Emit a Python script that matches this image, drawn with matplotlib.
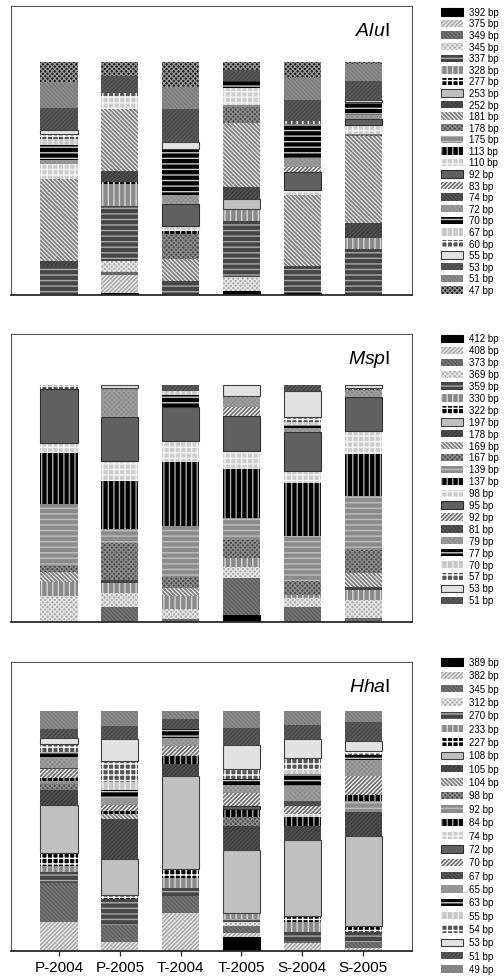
import matplotlib
matplotlib.use("Agg")
import matplotlib.pyplot as plt
from matplotlib.patches import Rectangle
import numpy as np

plt.rcParams['font.family'] = ['Liberation Sans', 'DejaVu Sans']
plt.rcParams['mathtext.fontset'] = 'custom'
plt.rcParams['mathtext.rm'] = 'Liberation Sans'
plt.rcParams['mathtext.it'] = 'Liberation Sans:italic'
plt.rcParams['hatch.linewidth'] = 1.0

samples = ["P-2004", "P-2005", "T-2004", "T-2005", "S-2004", "S-2005"]

# T-RFLP fragments (bp) and relative abundance (%), stacked bottom first
alu_bp = [392, 375, 349, 345, 337, 328, 277, 253, 252, 181, 178, 175, 113,
          110, 92, 83, 74, 72, 70, 67, 60, 55, 53, 51, 47]
alu_pct = [
    [0, 1.0, 0, 1.6, 0.7, 0],
    [0, 7.5, 0, 0, 0, 0],
    [0, 1.4, 0, 0, 0, 0],
    [0, 4.7, 0, 5.9, 0, 0],
    [12.5, 23.4, 4.3, 24.4, 10.6, 19.9],
    [0, 9.6, 0, 5.0, 0, 4.7],
    [0, 1.0, 0, 0, 0, 0],
    [0, 0, 0, 4.3, 0, 0],
    [2.2, 4.7, 1.7, 5.0, 1.1, 6.2],
    [35.2, 26.5, 9.3, 27.7, 30.4, 37.3],
    [0, 0, 10.8, 6.7, 0, 1.0],
    [0, 0, 0, 1.0, 0, 0],
    [0, 0, 1.4, 0, 0, 0],
    [6.5, 5.7, 2.2, 7.2, 2.3, 3.9],
    [0, 0, 9.5, 0, 7.5, 2.6],
    [0, 0, 0, 0, 2.2, 0],
    [0, 0, 0, 0, 0, 0],
    [1.4, 0, 3.9, 0, 3.9, 1.7],
    [6.5, 0, 19.7, 2.9, 14.8, 5.5],
    [2.4, 0, 0, 0, 0, 0],
    [2.2, 1.0, 0, 0, 1.0, 0],
    [1.9, 0, 2.9, 0, 0, 0.7],
    [9.5, 7.3, 14.1, 4.7, 9.0, 8.2],
    [11.2, 0, 9.3, 0, 9.6, 7.5],
    [8.3, 6.0, 10.8, 3.6, 6.9, 0.9],
]

msp_bp = [412, 408, 373, 369, 359, 330, 322, 197, 178, 169, 167, 139, 137,
          98, 95, 92, 81, 79, 77, 70, 57, 53, 51]
msp_pct = [
    [0, 0, 0, 2.8, 0, 0],
    [0, 0, 0, 0, 0, 0],
    [0, 6.2, 1.4, 15.7, 6.2, 1.7],
    [10.9, 6.2, 4.2, 4.6, 3.9, 7.4],
    [0, 0, 0, 0, 0, 0],
    [5.9, 4.1, 5.3, 3.8, 1.4, 4.6],
    [0, 0, 0, 0, 0, 0],
    [0, 0, 0, 0, 0, 0],
    [0, 1.1, 0, 0, 0, 1.0],
    [4.2, 0, 3.4, 0, 0, 6.0],
    [2.8, 15.7, 4.9, 7.9, 5.8, 9.8],
    [25.9, 5.8, 21.5, 9.0, 18.9, 22.7],
    [21.5, 20.6, 26.9, 20.8, 22.3, 17.8],
    [4.5, 8.4, 8.8, 7.6, 5.3, 9.5],
    [22.7, 18.2, 14.4, 14.6, 16.4, 14.4],
    [0, 0, 0, 3.8, 0, 0],
    [0, 0, 0, 0, 0, 0],
    [0, 12.6, 0, 4.6, 1.8, 2.8],
    [0, 0, 4.8, 0, 1.0, 0],
    [0, 0, 1.8, 0, 1.4, 0],
    [1.5, 0, 0, 0, 2.1, 1.0],
    [0, 1.1, 0, 4.9, 10.9, 1.1],
    [0, 0, 2.5, 0, 2.5, 0],
]

hha_bp = [389, 382, 345, 312, 270, 233, 227, 108, 105, 104, 98, 92, 84,
          74, 72, 70, 67, 65, 63, 55, 54, 53, 51, 49]
hha_pct = [
    [0, 0, 0, 5.8, 0, 0],
    [12.1, 3.9, 15.7, 1.5, 3.2, 1.4],
    [16.2, 6.8, 7.2, 3.1, 1.0, 2.4],
    [0, 0, 0, 1.7, 0, 0],
    [4.5, 10.9, 3.5, 1.4, 3.5, 3.9],
    [2.4, 0, 3.8, 2.2, 4.5, 0],
    [5.6, 1.8, 3.9, 0, 2.5, 2.5],
    [19.9, 14.9, 39.0, 26.5, 31.6, 37.5],
    [6.3, 16.5, 4.9, 9.7, 5.7, 10.4],
    [0, 2.1, 0, 0, 0, 0],
    [2.5, 0, 0, 3.8, 0, 0],
    [1.3, 0, 0, 0, 0, 4.3],
    [1.4, 1.4, 3.2, 3.5, 3.8, 2.6],
    [0, 0, 0, 0, 1.3, 0],
    [0, 0, 0, 1.4, 0, 0],
    [3.6, 2.4, 4.2, 5.3, 3.5, 7.7],
    [0.6, 0, 0, 0, 1.8, 0],
    [4.6, 3.2, 3.3, 3.1, 5.8, 6.7],
    [1.7, 3.2, 3.9, 2.8, 5.6, 2.1],
    [0, 3.1, 0, 0, 1.4, 0],
    [3.5, 9.1, 0, 3.9, 5.2, 1.7],
    [2.5, 9.1, 0, 10.0, 7.8, 4.2],
    [3.9, 5.2, 4.2, 7.4, 6.1, 8.1],
    [7.4, 6.4, 3.2, 7.0, 5.7, 4.6],
]

FW = "/" * 8
BK = "\\" * 8
XX = "x" * 7

# (face, hatch, line colour, hatch width) per stacking position;
# plain boxes get an outline instead
fills = [
    ("#000000", "", "#000000", 1.0),
    ("#a8a8a8", FW, "#e8e8e8", 1.0),
    ("#767676", BK, "#5e5e5e", 1.0),
    ("#acacac", XX, "#e6e6e6", 0.9),
    ("#464646", "---", "#a8a8a8", 1.0),
    ("#8a8a8a", "|||", "#d4d4d4", 1.0),
    ("#000000", "+++", "#ffffff", 1.0),
    ("#c0c0c0", "", "#404040", 1.0),
    ("#505050", FW, "#3c3c3c", 1.0),
    ("#eeeeee", BK, "#828282", 1.3),
    ("#4e4e4e", XX, "#8c8c8c", 0.9),
    ("#8c8c8c", "---", "#bcbcbc", 1.0),
    ("#000000", "|||", "#a8a8a8", 1.0),
    ("#cdcdcd", "+++", "#f4f4f4", 1.0),
    ("#606060", "", "#303030", 1.0),
    ("#f4f4f4", FW, "#6e6e6e", 1.2),
    ("#424242", BK, "#5a5a5a", 1.0),
    ("#8c8c8c", XX, "#9c9c9c", 0.9),
    ("#000000", "---", "#c8c8c8", 1.0),
    ("#c8c8c8", "|||", "#ececec", 1.0),
    ("#555555", "+++", "#ffffff", 1.0),
    ("#e2e2e2", "", "#404040", 1.0),
    ("#4a4a4a", FW, "#5c5c5c", 1.0),
    ("#7c7c7c", BK, "#8e8e8e", 1.0),
    ("#1c1c1c", XX, "#969696", 0.9),
]


def hatch_width(patch, lw):
    if hasattr(patch, "set_hatch_linewidth"):
        patch.set_hatch_linewidth(lw)


fig = plt.figure(figsize=(5.04, 9.79), dpi=100)

panels = [
    ("Alu", alu_bp, alu_pct, [0.0212, 0.6977, 0.7963, 0.2952], 124.0, 12.9, 11.58),
    ("Msp", msp_bp, msp_pct, [0.0212, 0.3636, 0.7963, 0.2942], 121.5, 339.5, 11.9),
    ("Hha", hha_bp, hha_pct, [0.0212, 0.0276, 0.7963, 0.2952], 120.4, 663.0, 13.35),
]

x = np.arange(len(samples))
for k, (name, bps, pct, rect, ytop, _, _) in enumerate(panels):
    ax = fig.add_axes(rect)
    base = np.zeros(len(samples))
    for i, row in enumerate(np.array(pct)):
        face, hatch, line, hlw = fills[i]
        keep = row > 0
        if keep.any():
            bars = ax.bar(x[keep], row[keep], 0.61, bottom=base[keep], color=face,
                          hatch=hatch, edgecolor=line,
                          linewidth=0 if hatch else 0.8)
            for b in bars:
                hatch_width(b, hlw)
        base += row
    ax.set_xlim(-0.795, 5.805)
    ax.set_ylim(0, ytop)
    ax.set_yticks([])
    for s in ["left", "top", "right"]:
        ax.spines[s].set_color("#555555")
        ax.spines[s].set_linewidth(0.8)
    ax.spines["bottom"].set_color("#2a2a2a")
    ax.spines["bottom"].set_linewidth(1.3)
    if k == 2:
        ax.set_xticks(x, samples)
        ax.tick_params(axis="x", length=3.5, width=0.9, color="#2a2a2a",
                       labelsize=11, pad=3)
    else:
        ax.set_xticks([])
    ax.text(0.945, 0.90, r"$\mathit{%s}$I" % name, transform=ax.transAxes,
            ha="right", va="baseline", fontsize=14)

# legends, laid out in pixel units down the right-hand column
leg = fig.add_axes([0, 0, 1, 1])
leg.set_xlim(0, 504)
leg.set_ylim(979, 0)
leg.axis("off")
for name, bps, pct, rect, ytop, y0, step in panels:
    for i, bp in enumerate(bps):
        yc = y0 + i * step
        face, hatch, line, hlw = fills[i]
        box = Rectangle((441, yc - 3.7), 22, 7.4, facecolor=face,
                        hatch=hatch, edgecolor=line,
                        linewidth=0 if hatch else 0.8)
        hatch_width(box, hlw)
        leg.add_patch(box)
        leg.text(469, yc, f"{bp} bp", fontsize=7, va="center", ha="left")

fig.savefig("out.png", dpi=100)
